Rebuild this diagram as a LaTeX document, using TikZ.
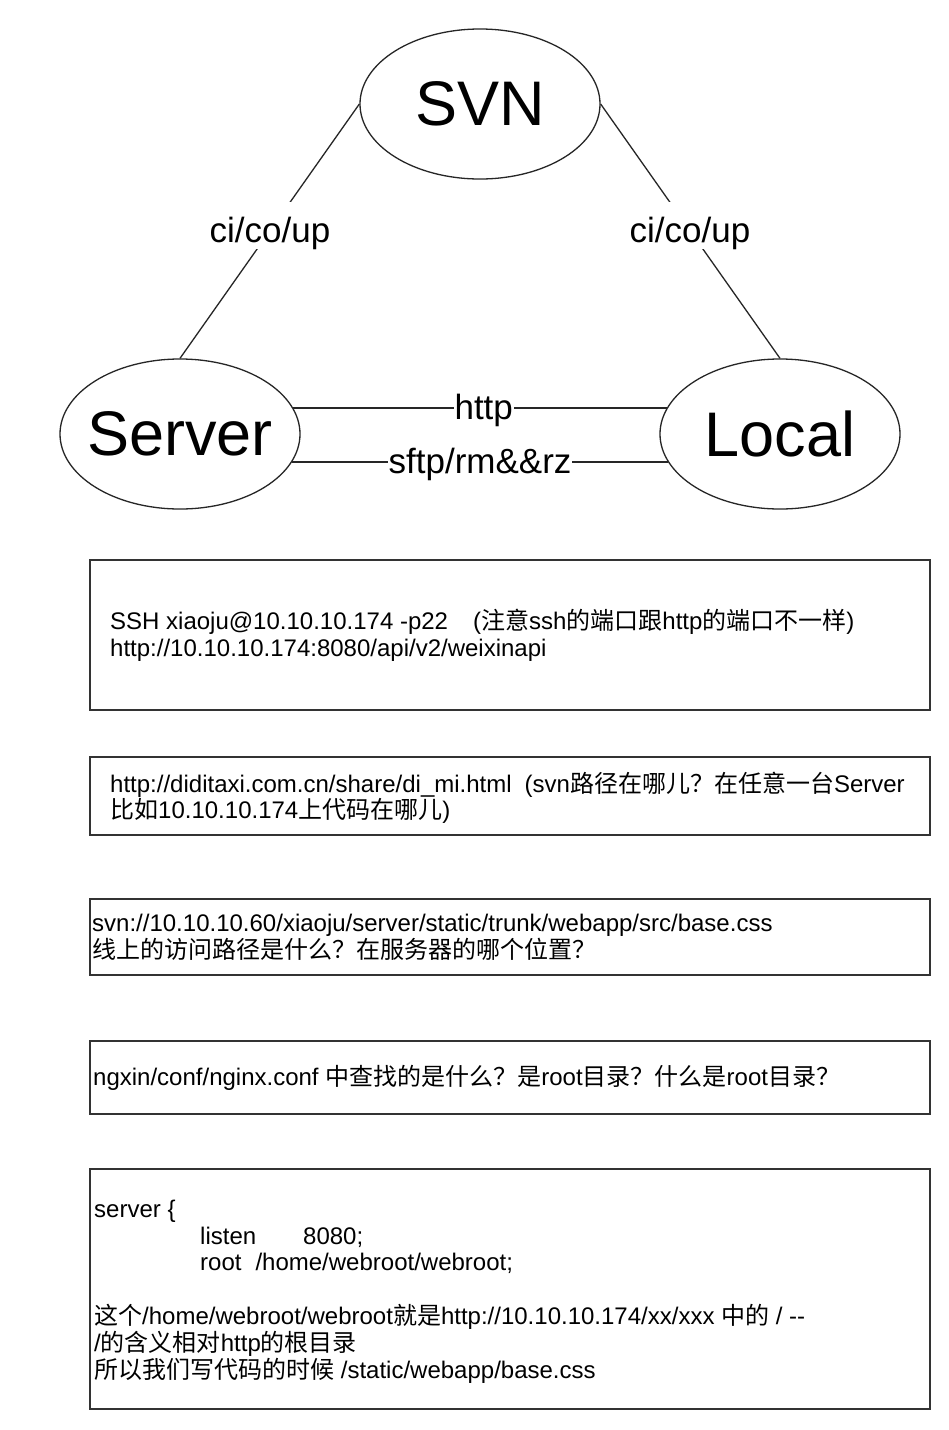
\documentclass[tikz,border=0pt]{standalone}
\usepackage{fontspec}
\setmainfont{Liberation Sans}
\newfontfamily\cjk{Noto Sans CJK SC}
\newcommand\zh[1]{{\cjk #1}}
\newcommand\zw[1]{\makebox[0pt][c]{#1}}
\usetikzlibrary{shapes.geometric}
\definecolor{edge}{HTML}{333333}
\begin{document}
\begin{tikzpicture}[x=1pt,y=-1pt,
  ell/.style={draw=black!85, line width=1.3pt, ellipse, minimum width=240pt, minimum height=150pt, inner sep=0pt, font=\fontsize{63}{70}\selectfont},
  conn/.style={draw=black!85, line width=1.3pt},
  lab/.style={fill=white, inner xsep=1pt, inner ysep=1pt, text height=26pt, text depth=2pt, font=\fontsize{35}{40}\selectfont},
  diag/.style={lab, text height=40pt, text depth=5pt},
  box/.style={draw=edge, line width=2pt, rectangle, minimum width=840pt, inner sep=0pt, outer sep=0pt},
  txt/.style={anchor=base west, inner sep=0pt, font=\fontsize{24}{27}\selectfont}
]
\useasboundingbox (0,0) rectangle (949,1430);
\fill[white] (0,0) rectangle (949,1430);

\node[ell] (svn) at (480,104) {\zw{SVN}};
\node[ell] (server) at (180,434) {\zw{Server}};
\node[ell] (local) at (780,434) {\zw{Local}};

\draw[conn] (svn.west) -- node[diag, pos=0.476, xshift=-4pt]{ci/co/up} (server.north);
\draw[conn] (svn.east) -- node[diag, pos=0.476, xshift=4pt]{ci/co/up} (local.north);
\draw[conn] (server.13) -- node[lab, pos=0.51]{http} (local.167);
\draw[conn] (server.-14.5) -- node[lab]{sftp/rm\&\&rz} (local.194.5);

\node[box, minimum height=150pt] (b1) at (510,635) {};
\node[box, minimum height=78pt] (b2) at (510,796) {};
\node[box, minimum height=76pt] (b3) at (510,937) {};
\node[box, minimum height=73pt] (b4) at (510,1077.5) {};
\node[box, minimum height=240pt] (b5) at (510,1289) {};

\node[txt] (t1a) at (110,629) {SSH xiaoju@10.10.10.174 -p22\hspace*{25pt}(\zh{注意}ssh\zh{的端口跟}http\zh{的端口不一样})};
\node[txt] (t1b) at (110,656) {http://10.10.10.174:8080/api/v2/weixinapi};

\node[txt] (t2a) at (110,792) {http://diditaxi.com.cn/share/di\_mi.html\hspace*{13pt}(svn\zh{路径在哪儿？在任意一台}Server};
\node[txt] (t2b) at (110,818) {\zh{比如}10.10.10.174\zh{上代码在哪儿})};

\node[txt] (t3a) at (92,931) {svn://10.10.10.60/xiaoju/server/static/trunk/webapp/src/base.css};
\node[txt] (t3b) at (92,958) {\zh{线上的访问路径是什么？在服务器的哪个位置？}};

\node[txt] (t4) at (93,1085) {ngxin/conf/nginx.conf \zh{中查找的是什么？是}root\zh{目录？什么是}root\zh{目录？}};

\node[txt] (t5a) at (94,1217) {server \{};
\node[txt] (t5b) at (200,1244) {listen\hspace*{47pt}8080;};
\node[txt] (t5c) at (200,1270) {root\hspace*{14pt}/home/webroot/webroot;};
\node[txt] (t5d) at (94,1324) {\zh{这个}/home/webroot/webroot\zh{就是}http://10.10.10.174/xx/xxx \zh{中的} / -{}-};
\node[txt] (t5e) at (94,1351) {/\zh{的含义相对}http\zh{的根目录}};
\node[txt] (t5f) at (94,1378) {\zh{所以我们写代码的时候} /static/webapp/base.css};
\end{tikzpicture}
\end{document}
